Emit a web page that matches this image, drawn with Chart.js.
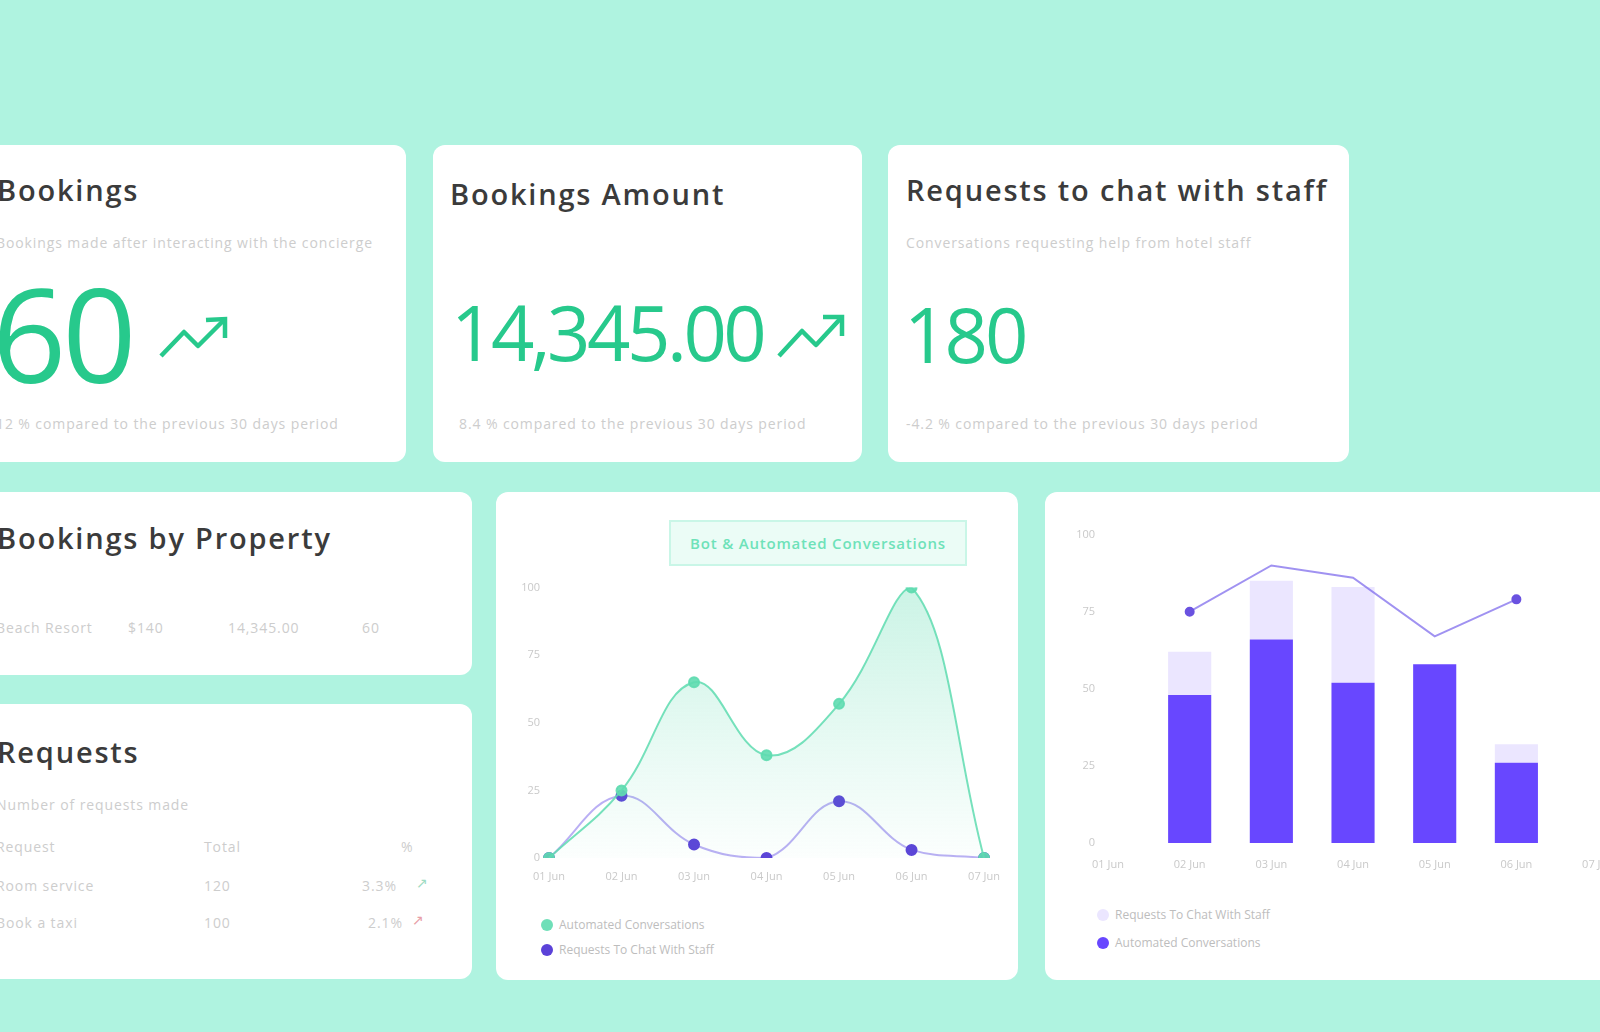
<!DOCTYPE html>
<html>
<head>
<meta charset="utf-8">
<script src="https://cdn.jsdelivr.net/npm/chart.js@4.4.0/dist/chart.umd.min.js"></script>
<style>
html,body{margin:0;padding:0}
body{width:1600px;height:1032px;overflow:hidden;background:#aff3e0;position:relative;font-family:"Open Sans",sans-serif}
.card{position:absolute;background:#fff;border-radius:12px}
.t{position:absolute;white-space:nowrap;line-height:1}
.title{font-size:29px;font-weight:600;color:#3b3b3b;letter-spacing:1.8px}
.sub{font-size:14px;color:#cdcdcd;letter-spacing:0.9px}
.big{color:#27c98c;font-weight:400}
.arrow{position:absolute}
.legend{position:absolute;font-size:12px;color:#bdbdbd;line-height:1}
.legend div{position:relative;height:25px;white-space:nowrap}
.legend span.dot{position:absolute;left:0;top:0;width:12px;height:12px;border-radius:50%}
.legend span.txt{position:absolute;left:18px;top:0}
#barLegend div{height:28px}
.chip{position:absolute;left:669px;top:520px;width:294px;height:42px;border:2px solid #c9f6e7;background:#ebfcf6;color:#6ee2b9;font-size:15px;font-weight:600;text-align:center;line-height:42px;letter-spacing:0.8px}
</style>
</head>
<body>
<!-- KPI cards -->
<div class="card" style="left:-22px;top:145px;width:428px;height:317px"></div>
<div class="card" style="left:433px;top:145px;width:429px;height:317px"></div>
<div class="card" style="left:888px;top:145px;width:461px;height:317px"></div>

<div class="t title" style="left:-3px;top:175px">Bookings</div>
<div class="t sub" style="left:-4px;top:236px">Bookings made after interacting with the concierge</div>
<div class="t big" id="kpi1" style="left:-8px;top:268px;font-size:130px;letter-spacing:-4px"></div>
<svg class="arrow" style="left:158px;top:314px" width="72" height="48" viewBox="0 0 72 48"><polyline points="3,42 26,18 40,32 66,6" fill="none" stroke="#27c98c" stroke-width="4.5" stroke-linejoin="round"/><polyline points="48,6 67,5 67,24" fill="none" stroke="#27c98c" stroke-width="4.5"/></svg>
<div class="t sub" style="left:-4px;top:417px">12 % compared to the previous 30 days period</div>

<div class="t title" style="left:450px;top:179px">Bookings Amount</div>
<div class="t big" id="kpi2" style="left:451px;top:294px;font-size:76px;letter-spacing:-3.5px"></div>
<svg class="arrow" style="left:776px;top:311px" width="70" height="51" viewBox="0 0 70 51"><polyline points="3,45 26,20 40,34 65,7" fill="none" stroke="#27c98c" stroke-width="4.5" stroke-linejoin="round"/><polyline points="47,6 66,6 66,25" fill="none" stroke="#27c98c" stroke-width="4.5"/></svg>
<div class="t sub" style="left:459px;top:417px">8.4 % compared to the previous 30 days period</div>

<div class="t title" style="left:906px;top:175px">Requests to chat with staff</div>
<div class="t sub" style="left:906px;top:236px">Conversations requesting help from hotel staff</div>
<div class="t big" id="kpi3" style="left:904px;top:296px;font-size:76px;letter-spacing:-3px"></div>
<div class="t sub" style="left:906px;top:417px">-4.2 % compared to the previous 30 days period</div>

<!-- left lower cards -->
<div class="card" style="left:-22px;top:492px;width:494px;height:183px"></div>
<div class="t title" style="left:-3px;top:523px">Bookings by Property</div>
<div class="t sub" style="left:-4px;top:621px">Beach Resort</div>
<div class="t sub" style="left:128px;top:621px">$140</div>
<div class="t sub" style="left:228px;top:621px">14,345.00</div>
<div class="t sub" style="left:362px;top:621px">60</div>

<div class="card" style="left:-22px;top:704px;width:494px;height:275px"></div>
<div class="t title" style="left:-3px;top:737px">Requests</div>
<div class="t sub" style="left:-4px;top:798px">Number of requests made</div>
<div class="t sub" style="left:-4px;top:840px">Request</div>
<div class="t sub" style="left:204px;top:840px">Total</div>
<div class="t sub" style="left:401px;top:840px">%</div>
<div class="t sub" style="left:-4px;top:879px">Room service</div>
<div class="t sub" style="left:204px;top:879px">120</div>
<div class="t sub" style="left:362px;top:879px">3.3%</div>
<div class="t sub" style="left:416px;top:876px;color:#9fdcc4">&#8599;</div>
<div class="t sub" style="left:-4px;top:916px">Book a taxi</div>
<div class="t sub" style="left:204px;top:916px">100</div>
<div class="t sub" style="left:368px;top:916px">2.1%</div>
<div class="t sub" style="left:412px;top:913px;color:#e8a0a8">&#8599;</div>

<!-- line chart card -->
<div class="card" style="left:496px;top:492px;width:522px;height:488px"></div>
<div class="chip" id="chip"></div>
<canvas id="lineChart" width="507" height="328" style="position:absolute;left:505px;top:572px"></canvas>
<div class="legend" id="lineLegend" style="left:541px;top:919px"></div>

<!-- bar chart card -->
<div class="card" style="left:1045px;top:492px;width:620px;height:488px"></div>
<canvas id="barChart" width="574" height="377" style="position:absolute;left:1055px;top:515px"></canvas>
<div class="legend" id="barLegend" style="left:1097px;top:909px"></div>

<script>
// ---- data ----
const kpiBookings = '60';
const kpiAmount = '14,345.00';
const kpiStaffRequests = '180';
const lineTitle = 'Bot & Automated Conversations';

const lineLabels = ['01 Jun', '02 Jun', '03 Jun', '04 Jun', '05 Jun', '06 Jun', '07 Jun'];
const automatedSeries = [0, 25, 65, 38, 57, 100, 0];
const staffSeries = [0, 23, 5, 0, 21, 3, 0];

const barLabels = ['01 Jun', '02 Jun', '03 Jun', '04 Jun', '05 Jun', '06 Jun', '07 Jun'];
const barAutomated = [null, 48, 66, 52, 58, 26, null];
const barStaff = [null, 14, 19, 31, 0, 6, null];
const barTrend = [null, 75, 90, 86, 67, 79, null];

const yTickStep = 25;
const yMax = 100;

// ---- KPI text ----
document.getElementById('kpi1').textContent = kpiBookings;
document.getElementById('kpi2').textContent = kpiAmount;
document.getElementById('kpi3').textContent = kpiStaffRequests;
document.getElementById('chip').textContent = lineTitle;

const PURPLE_PT = '#5b42d8';
const PURPLE_LN = 'rgba(130,110,235,0.55)';
const BAR_DARK = '#6847ff';
const BAR_LIGHT = '#ebe6ff';
const TICK = '#c9c9c9';

function htmlLegend(id, items) {
  const el = document.getElementById(id);
  el.innerHTML = '';
  items.forEach(it => {
    const row = document.createElement('div');
    const dot = document.createElement('span');
    dot.className = 'dot';
    dot.style.background = it.color;
    const txt = document.createElement('span');
    txt.className = 'txt';
    txt.textContent = it.text;
    row.appendChild(dot); row.appendChild(txt);
    el.appendChild(row);
  });
}

const font = {family: '"Open Sans", sans-serif', size: 11};

// ---- line chart ----
const lineChart = new Chart(document.getElementById('lineChart'), {
  type: 'line',
  data: {
    labels: lineLabels,
    datasets: [
      {
        label: 'Automated Conversations',
        data: automatedSeries,
        borderColor: 'rgba(95,220,176,0.85)',
        borderWidth: 2,
        pointBackgroundColor: 'rgba(95,220,176,0.9)',
        pointBorderColor: 'rgba(95,220,176,0.9)',
        pointRadius: 5,
        tension: 0.4,
        fill: 'origin',
        backgroundColor: (ctx) => {
          const ca = ctx.chart.chartArea;
          if (!ca) return 'rgba(95,220,176,0.15)';
          const g = ctx.chart.ctx.createLinearGradient(0, ca.top, 0, ca.bottom);
          g.addColorStop(0, 'rgba(95,220,176,0.32)');
          g.addColorStop(1, 'rgba(95,220,176,0.02)');
          return g;
        }
      },
      {
        label: 'Requests To Chat With Staff',
        data: staffSeries,
        borderColor: PURPLE_LN,
        borderWidth: 2,
        pointBackgroundColor: PURPLE_PT,
        pointBorderColor: PURPLE_PT,
        pointRadius: 5,
        tension: 0.4,
        fill: false
      }
    ]
  },
  options: {
    responsive: false,
    animation: false,
    layout: {padding: 0},
    plugins: {legend: {display: false}, tooltip: {enabled: false}},
    scales: {
      x: {
        grid: {display: false, drawTicks: false},
        border: {display: false},
        ticks: {color: TICK, font, padding: 12, maxRotation: 0, autoSkip: false},
        afterFit: (s) => { s.height = 42; }
      },
      y: {
        min: 0, max: yMax,
        grid: {display: false, drawTicks: false},
        border: {display: false},
        ticks: {stepSize: yTickStep, color: TICK, font, padding: 9},
        afterFit: (s) => { s.width = 44; }
      }
    }
  }
});
htmlLegend('lineLegend', lineChart.data.datasets.map(d => ({text: d.label, color: d.pointBackgroundColor})));

// ---- bar chart ----
const barChart = new Chart(document.getElementById('barChart'), {
  type: 'bar',
  data: {
    labels: barLabels,
    datasets: [
      {
        type: 'line',
        label: 'Trend',
        data: barTrend,
        borderColor: 'rgba(120,100,235,0.7)',
        borderWidth: 2,
        tension: 0,
        pointRadius: (ctx) => {
          const d = barTrend;
          const first = d.findIndex(v => v !== null);
          let last = d.length - 1; while (last >= 0 && d[last] === null) last--;
          return (ctx.dataIndex === first || ctx.dataIndex === last) ? 4 : 0;
        },
        pointBackgroundColor: '#6a52e0',
        pointBorderColor: '#6a52e0',
        order: 0
      },
      {
        label: 'Automated Conversations',
        data: barAutomated,
        backgroundColor: BAR_DARK,
        stack: 's',
        order: 1,
        categoryPercentage: 0.6,
        barPercentage: 0.88
      },
      {
        label: 'Requests To Chat With Staff',
        data: barStaff,
        backgroundColor: BAR_LIGHT,
        stack: 's',
        order: 1,
        categoryPercentage: 0.6,
        barPercentage: 0.88
      }
    ]
  },
  options: {
    responsive: false,
    animation: false,
    layout: {padding: 0},
    plugins: {legend: {display: false}, tooltip: {enabled: false}},
    scales: {
      x: {
        offset: false,
        stacked: true,
        grid: {display: false, drawTicks: false},
        border: {display: false},
        ticks: {color: TICK, font, padding: 15, maxRotation: 0, autoSkip: false},
        afterFit: (s) => { s.height = 49; }
      },
      y: {
        stacked: true,
        min: 0, max: yMax,
        grid: {display: false, drawTicks: false},
        border: {display: false},
        ticks: {stepSize: yTickStep, color: TICK, font, padding: 13},
        afterFit: (s) => { s.width = 53; }
      }
    }
  }
});
htmlLegend('barLegend', [barChart.data.datasets[2], barChart.data.datasets[1]].map(d => ({text: d.label, color: d.backgroundColor})));
</script>
</body>
</html>
